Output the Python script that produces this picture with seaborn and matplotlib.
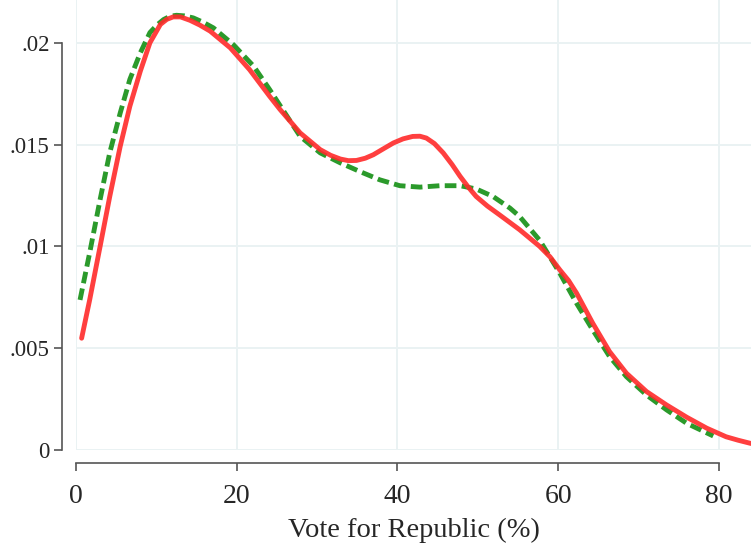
import pandas as pd
import seaborn as sns
import matplotlib.pyplot as plt

# valores (densidad del voto)
rojo_x = [0.7, 1.7, 3.0, 4.2, 5.5, 6.7, 8.0, 9.2, 10.5, 11.3, 12.1, 13.0, 14.2, 15.4, 16.7,
          19.2, 21.6, 24.1, 25.4, 27.9, 30.4, 31.7, 32.9, 33.9, 34.9, 36.0, 37.0, 38.2,
          39.5, 40.7, 41.9, 42.8, 43.6, 44.6, 45.7, 46.8, 47.8, 48.8, 49.8, 51.2, 52.7,
          55.2, 57.7, 59.0, 60.2, 61.3, 62.3, 64.3, 66.4, 68.5, 71.0, 73.5, 76.0, 78.5,
          80.9, 82.4, 84.0]
rojo_y = [0.00549, 0.00737, 0.0100, 0.01245, 0.01491, 0.01688, 0.0186, 0.0200, 0.0209,
          0.02115, 0.02127, 0.02127, 0.0211, 0.02087, 0.02057, 0.01975, 0.01868, 0.01737,
          0.01672, 0.01557, 0.01475, 0.01447, 0.01429, 0.01421, 0.01422, 0.01433, 0.0145,
          0.01478, 0.01508, 0.01528, 0.0154, 0.01541, 0.01532, 0.01505, 0.01459, 0.01402,
          0.01344, 0.01292, 0.01245, 0.01198, 0.01155, 0.01082, 0.0100, 0.00948, 0.00885,
          0.00832, 0.0077, 0.00623, 0.00483, 0.00377, 0.00287, 0.00221, 0.00161, 0.00107,
          0.00065, 0.00048, 0.00032]

verde_x = [0.5, 1.7, 3.0, 4.2, 5.5, 6.7, 8.0, 9.2, 10.1, 10.9, 11.7, 12.5, 13.5, 14.6,
           15.8, 17.1, 19.6, 22.1, 24.1, 26.0, 27.9, 30.4, 32.9, 35.3, 37.8, 40.3, 42.8,
           45.3, 47.8, 49.8, 51.9, 54.0, 55.2, 57.7, 60.2, 62.3, 64.3, 66.4, 68.5, 71.0,
           73.5, 76.0, 79.3]
verde_y = [0.00737, 0.00968, 0.0123, 0.0146, 0.01655, 0.0182, 0.0195, 0.0205, 0.02088,
           0.02114, 0.0213, 0.02135, 0.02132, 0.02122, 0.02101, 0.02073, 0.0199, 0.01885,
           0.0177, 0.01655, 0.0154, 0.01459, 0.0141, 0.01368, 0.01327, 0.01298, 0.01291,
           0.01298, 0.01298, 0.01282, 0.01245, 0.01188, 0.01147, 0.0103, 0.00869, 0.0072,
           0.0059, 0.00459, 0.0036, 0.0027, 0.00197, 0.00131, 0.00069]

x_ticks = [0, 20, 40, 60, 80]
y_ticks = [0, 0.005, 0.01, 0.015, 0.02]
y_labels = ["0", ".005", ".01", ".015", ".02"]

df_rojo = pd.DataFrame({"x": rojo_x, "y": rojo_y})
df_verde = pd.DataFrame({"x": verde_x, "y": verde_y})

sns.set_theme(style="white")
plt.rcParams["font.family"] = ["Liberation Serif", "DejaVu Serif"]

fig = plt.figure(figsize=(7.51, 5.49), dpi=100)
ax = fig.add_axes([76 / 751, 99 / 549, 675 / 751, 450 / 549])

sns.lineplot(data=df_verde, x="x", y="y", ax=ax, color="#2b9a2b", linewidth=3.5,
             sort=False)
ax.lines[-1].set_dashes((2.4, 1.1))
sns.lineplot(data=df_rojo, x="x", y="y", ax=ax, color="#ff2a2a", alpha=0.9,
             linewidth=3.5, sort=False)
for ln in ax.lines:
    ln.set_solid_joinstyle("round")
    ln.set_solid_capstyle("round")

ax.set_xlim(0, 84)
ax.set_ylim(0, 0.0221)
ax.set_xticks(x_ticks)
ax.set_yticks(y_ticks)
ax.set_yticklabels(y_labels)
ax.grid(True, color="#eaf2f3", linewidth=1.4)
ax.set_axisbelow(True)

for s in ["top", "right"]:
    ax.spines[s].set_visible(False)
ax.spines["left"].set_position(("outward", 10))
ax.spines["bottom"].set_position(("outward", 9.5))
ax.spines["left"].set_bounds(0, 0.02)
ax.spines["bottom"].set_bounds(0, 80)
for s in ["left", "bottom"]:
    ax.spines[s].set_color("#555555")
    ax.spines[s].set_linewidth(1.2)

ax.tick_params(axis="both", direction="out", length=6, width=1.2, color="#555555",
               bottom=True, left=True)
ax.tick_params(axis="y", labelsize=16.5, pad=3)
ax.tick_params(axis="x", labelsize=20, pad=9)
ax.set_xlabel("Vote for Republic (%)", fontsize=20.5, labelpad=6)
ax.set_ylabel("")

fig.savefig("out.png", dpi=100)
